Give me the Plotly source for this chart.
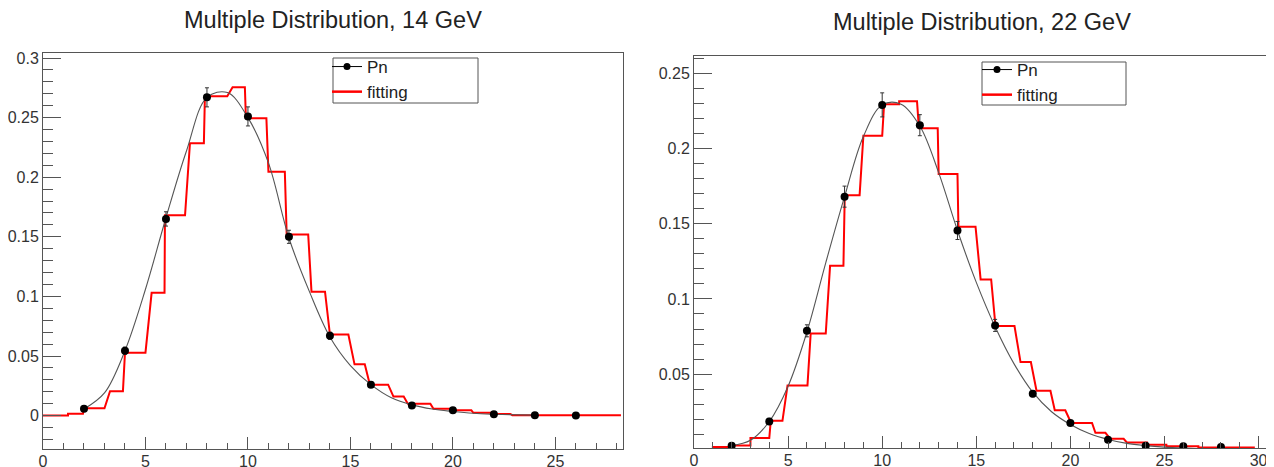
import plotly.graph_objects as go

W, H = 1274, 467
OFF = 8  # page body margin of the browser
FW, FH = W - OFF, H - OFF
FONT = "Liberation Sans, Arial, Helvetica, sans-serif"

# ---------------- 14 GeV ----------------
n14 = [2, 4, 6, 8, 10, 12, 14, 16, 18, 20, 22, 24, 26]
pn14 = [0.0058, 0.0545, 0.165, 0.267, 0.251, 0.150, 0.067, 0.026, 0.0085, 0.0045, 0.0012, 0.0003, 0.0002]
err14 = [0.001, 0.003, 0.006, 0.008, 0.008, 0.0055, 0.003, 0.0015, 0.001, 0.0005, 0.0005, 0.0005, 0.0005]

curve14_x = [2, 3, 4, 5, 6, 7, 8, 9, 10, 11, 12, 13, 14, 15, 16, 17, 18, 19, 20, 21, 22, 23, 24]
curve14_y = [0.0055, 0.019, 0.0545, 0.106, 0.166, 0.222, 0.267, 0.271, 0.250, 0.212, 0.149, 0.104,
             0.066, 0.042, 0.026, 0.015, 0.009, 0.0055, 0.0035, 0.002, 0.0012, 0.0007, 0.0004]

fit14_lo = [0.0, 1.22, 2.0, 3.27, 4.0, 5.3, 5.95, 7.17, 7.9, 9.25, 9.9, 11.0, 11.89, 13.1, 14.0, 15.2,
            15.95, 17.1, 17.8, 19.05, 20.0, 21.0, 22.0, 22.9]
fit14_hi = [1.22, 1.95, 3.0, 3.9, 5.0, 5.93, 6.93, 7.85, 8.99, 9.85, 10.9, 11.8, 12.94, 13.76, 14.9, 15.7,
            16.84, 17.6, 18.9, 19.95, 20.9, 21.95, 22.8, 28.2]
fit14_lvl = [0.0, 0.0015, 0.0062, 0.0205, 0.0528, 0.103, 0.168, 0.2285, 0.268, 0.2755, 0.2495, 0.2045,
             0.152, 0.104, 0.068, 0.043, 0.026, 0.016, 0.010, 0.0057, 0.0045, 0.0024, 0.0014, 0.0004]

# ---------------- 22 GeV ----------------
n22 = [2, 4, 6, 8, 10, 12, 14, 16, 18, 20, 22, 24, 26, 28]
pn22 = [0.0024, 0.0186, 0.0788, 0.168, 0.229, 0.2155, 0.1455, 0.0824, 0.037, 0.0175, 0.0064, 0.0024, 0.002, 0.0015]
err22 = [0.001, 0.002, 0.004, 0.007, 0.008, 0.007, 0.006, 0.004, 0.002, 0.0015, 0.001, 0.001, 0.001, 0.001]

curve22_x = [2, 3, 4, 5, 6, 7, 8, 9, 10, 11, 12, 13, 14, 15, 16, 17, 18, 19, 20, 21, 22, 23, 24, 25, 26, 27]
curve22_y = [0.0025, 0.006, 0.0185, 0.042, 0.078, 0.124, 0.168, 0.208, 0.229, 0.2295, 0.215, 0.184, 0.1455,
             0.111, 0.0815, 0.057, 0.038, 0.025, 0.0165, 0.0105, 0.0066, 0.004, 0.0025, 0.0015, 0.0009, 0.0005]

fit22_lo = [0.95, 2.1, 3.0, 4.08, 4.97, 6.2, 7.23, 8.01, 9.0, 10.1, 10.9, 11.95, 13.0, 14.05, 15.23, 16.02,
            17.35, 18.2, 19.17, 20.04, 21.33, 22.12, 23.0, 24.07, 25.1, 26.8]
fit22_hi = [2.1, 3.0, 4.0, 4.7, 6.03, 7.0, 7.94, 8.8, 10.0, 10.9, 11.85, 12.95, 14.0, 14.96, 15.79, 17.03,
            17.9, 18.94, 19.73, 21.15, 21.86, 22.83, 24.07, 25.1, 26.8, 29.8]
fit22_lvl = [0.0015, 0.0025, 0.0075, 0.019, 0.0425, 0.077, 0.122, 0.169, 0.2085, 0.2295, 0.2315, 0.2135,
             0.183, 0.148, 0.113, 0.082, 0.058, 0.039, 0.026, 0.0175, 0.011, 0.007, 0.0046, 0.003, 0.002, 0.0012]

y14_ticks = [0, 0.05, 0.1, 0.15, 0.2, 0.25, 0.3]
y14_text = ["0", "0.05", "0.1", "0.15", "0.2", "0.25", "0.3"]
y22_ticks = [0.05, 0.1, 0.15, 0.2, 0.25]
y22_text = ["0.05", "0.1", "0.15", "0.2", "0.25"]
x14_ticks = [0, 5, 10, 15, 20, 25]
x22_ticks = [0, 5, 10, 15, 20, 25, 30]


def px(x):
    return (x - OFF) / FW


def py(y):
    return 1 - (y - OFF) / FH


def steps(lo, hi, lvl):
    xs, ys = [], []
    for a, b, v in zip(lo, hi, lvl):
        xs += [a, b]
        ys += [v, v]
    return xs, ys


fig = go.Figure()

RED = "#ff0000"
GRAY = "#555555"

for (xa, ya, leg, n, pn, err, cx, cy, lo, hi, lvl) in [
    ("x", "y", "legend", n14, pn14, err14, curve14_x, curve14_y, fit14_lo, fit14_hi, fit14_lvl),
    ("x2", "y2", "legend2", n22, pn22, err22, curve22_x, curve22_y, fit22_lo, fit22_hi, fit22_lvl),
]:
    sx, sy = steps(lo, hi, lvl)
    # legend entries
    fig.add_trace(go.Scatter(x=[None], y=[None], mode="lines+markers", name="Pn",
                             line=dict(color="black", width=1), marker=dict(color="black", size=7),
                             xaxis=xa, yaxis=ya, legend=leg, showlegend=True))
    fig.add_trace(go.Scatter(x=[None], y=[None], mode="lines", name="fitting",
                             line=dict(color=RED, width=2.5),
                             xaxis=xa, yaxis=ya, legend=leg, showlegend=True))
    # fit histogram
    fig.add_trace(go.Scatter(x=sx, y=sy, mode="lines", line=dict(color=RED, width=2),
                             xaxis=xa, yaxis=ya, showlegend=False, hoverinfo="skip"))
    # smooth curve
    fig.add_trace(go.Scatter(x=cx, y=cy, mode="lines", line=dict(color=GRAY, width=1.1, shape="spline", smoothing=1.0),
                             xaxis=xa, yaxis=ya, showlegend=False, hoverinfo="skip"))
    # data points
    fig.add_trace(go.Scatter(x=n, y=pn, mode="markers", marker=dict(color="black", size=8),
                             error_y=dict(type="data", array=err, color="#333", thickness=1, width=2),
                             xaxis=xa, yaxis=ya, showlegend=False))

axis_base = dict(showline=True, linecolor="#555", linewidth=1, mirror=True, ticks="inside",
                 tickcolor="#555", tickwidth=1, showgrid=False, zeroline=False, automargin=False,
                 tickfont=dict(family=FONT, size=16, color="#333"))

leg_base = dict(xanchor="left", yanchor="top", bgcolor="rgba(0,0,0,0)",
                borderwidth=0, font=dict(family=FONT, size=17, color="#222"), traceorder="normal",
                itemwidth=30, tracegroupgap=0)

fig.update_layout(
    width=FW, height=FH,
    margin=dict(l=0, r=0, t=0, b=0),
    paper_bgcolor="white", plot_bgcolor="white",
    xaxis=dict(axis_base, domain=[px(43), px(623)], range=[0, 28.3], anchor="y",
               tickmode="array", tickvals=x14_ticks, ticklen=12, ticklabelstandoff=-2,
               minor=dict(tickmode="linear", tick0=0, dtick=1, ticks="inside", ticklen=6, tickcolor="#555")),
    yaxis=dict(axis_base, domain=[py(449), py(53)], range=[-0.0280, 0.3042], anchor="x",
               tickmode="array", tickvals=y14_ticks, ticktext=y14_text, ticklen=18,
               minor=dict(tickmode="linear", tick0=0, dtick=0.01, ticks="inside", ticklen=10, tickcolor="#555")),
    xaxis2=dict(axis_base, domain=[px(694), px(1268)], range=[0, 30.5], anchor="y2",
                tickmode="array", tickvals=x22_ticks, ticklen=12, ticklabelstandoff=-2,
                minor=dict(tickmode="linear", tick0=0, dtick=1, ticks="inside", ticklen=6, tickcolor="#555")),
    yaxis2=dict(axis_base, domain=[py(448), py(56)], range=[0.0009, 0.2615], anchor="x2",
                tickmode="array", tickvals=y22_ticks, ticktext=y22_text, ticklen=18,
                minor=dict(tickmode="linear", tick0=0, dtick=0.01, ticks="inside", ticklen=10, tickcolor="#555")),
    legend=dict(leg_base, x=px(327), y=py(49)),
    legend2=dict(leg_base, x=px(977), y=py(52)),
    shapes=[
        dict(type="rect", xref="paper", yref="paper", x0=px(333), x1=px(478), y0=py(103), y1=py(58),
             line=dict(color="#555", width=1), fillcolor="rgba(0,0,0,0)"),
        dict(type="rect", xref="paper", yref="paper", x0=px(982), x1=px(1126), y0=py(105), y1=py(62),
             line=dict(color="#555", width=1), fillcolor="rgba(0,0,0,0)"),
    ],
    annotations=[
        dict(text="Multiple Distribution, 14 GeV", x=px(333), y=py(20), xref="paper", yref="paper",
             xanchor="center", yanchor="middle", showarrow=False,
             font=dict(family=FONT, size=23.5, color="#222")),
        dict(text="Multiple Distribution, 22 GeV", x=px(982), y=py(22), xref="paper", yref="paper",
             xanchor="center", yanchor="middle", showarrow=False,
             font=dict(family=FONT, size=23.5, color="#222")),
    ],
)

fig.write_html("out.html")
